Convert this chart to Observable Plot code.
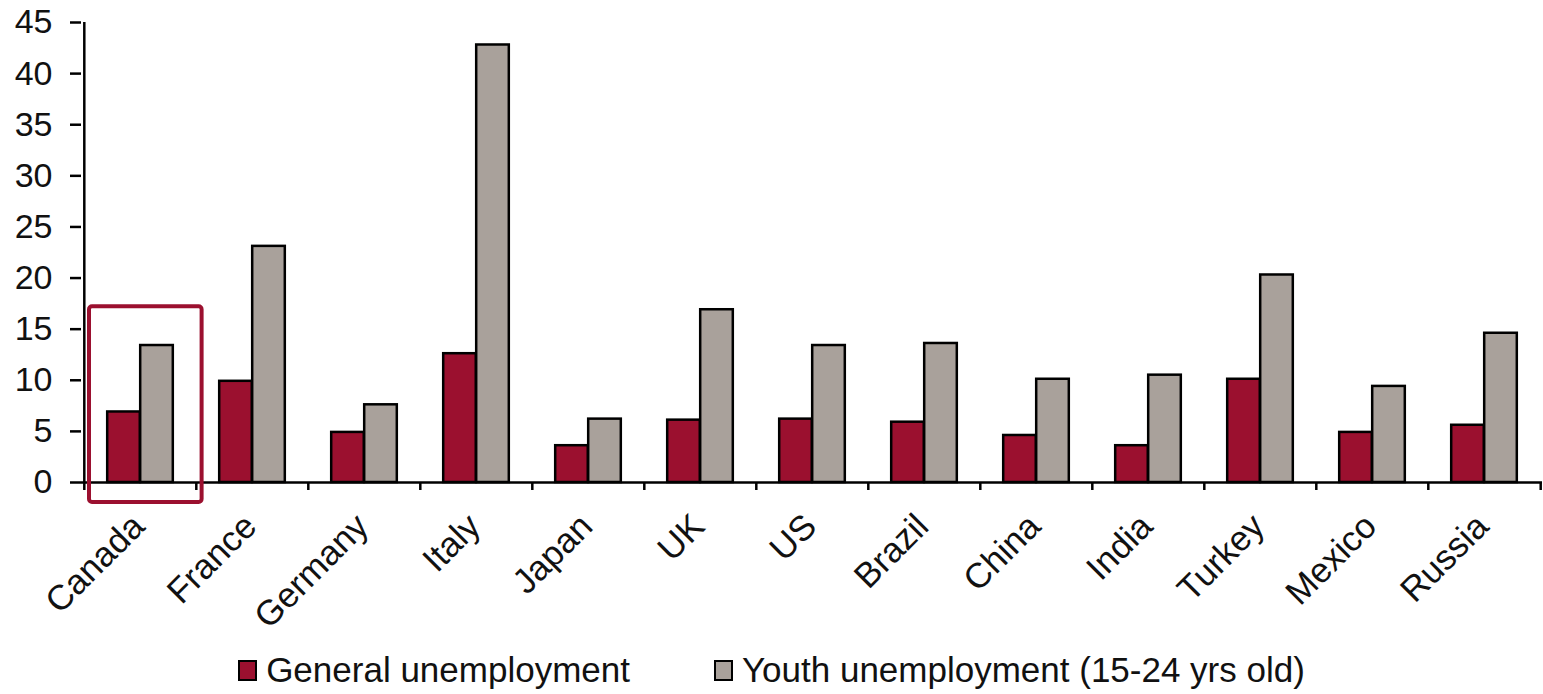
<!DOCTYPE html>
<html>
<head>
<meta charset="utf-8">
<script src="https://cdn.jsdelivr.net/npm/d3@7"></script>
<script src="https://cdn.jsdelivr.net/npm/@observablehq/plot@0.6"></script>
<style>
  html, body { margin: 0; padding: 0; background: #fff; }
  body { width: 1543px; height: 694px; overflow: hidden; font-family: "Liberation Sans", Arial, sans-serif; }
  #legend { display: flex; justify-content: center; align-items: center; height: 49px; font-size: 35px; color: #111; gap: 84px; padding-left: 0px; }
  .item { display: flex; align-items: center; }
  .sw { width: 15px; height: 17px; border: 2px solid #000; margin-right: 9px; margin-top: 2px; }
</style>
</head>
<body>
<div id="chart"></div>
<div id="legend"></div>
<script>
const countries = ["Canada","France","Germany","Italy","Japan","UK","US","Brazil","China","India","Turkey","Mexico","Russia"];
const general = [6.9, 9.9, 4.9, 12.6, 3.6, 6.1, 6.2, 5.9, 4.6, 3.6, 10.1, 4.9, 5.6];
const youth = [13.4, 23.1, 7.6, 42.8, 6.2, 16.9, 13.4, 13.6, 10.1, 10.5, 20.3, 9.4, 14.6];
const seriesNames = ["General unemployment", "Youth unemployment (15-24 yrs old)"];
const seriesColors = ["#9B102F", "#A9A19B"];
const yTicks = [0, 5, 10, 15, 20, 25, 30, 35, 40, 45];
const highlight = "Canada";

const width = 1543, height = 645;
const marginLeft = 81, marginRight = 1, marginTop = 22, marginBottom = 163;
const band = (width - marginLeft - marginRight) / countries.length;
const barW = 33;

const rows = countries.map((c, i) => ({country: c, general: general[i], youth: youth[i]}));

const plot = Plot.plot({
  width, height, marginLeft, marginRight, marginTop, marginBottom,
  style: {fontFamily: '"Liberation Sans", Arial, sans-serif', color: "#111", background: "#fff"},
  x: {domain: countries, padding: 0, axis: null, label: null},
  y: {domain: [0, 45], axis: null, label: null},
  marks: [
    Plot.barY(rows, {x: "country", y: "general", fill: seriesColors[0], stroke: "#000", strokeWidth: 2.5,
      insetLeft: band / 2 - barW, insetRight: band / 2}),
    Plot.barY(rows, {x: "country", y: "youth", fill: seriesColors[1], stroke: "#000", strokeWidth: 2.5,
      insetLeft: band / 2, insetRight: band / 2 - barW}),
    Plot.ruleY([0], {stroke: "#000", strokeWidth: 2.5}),
    Plot.ruleX([countries[0]], {x: d => d, dx: -band / 2, y1: 0, y2: 45, stroke: "#000", strokeWidth: 2.5}),
    Plot.ruleX(countries, {x: d => d, dx: -band / 2, y1: d => 0, y2: d => 0, insetBottom: -8, stroke: "#000", strokeWidth: 2.5}),
    Plot.ruleX([countries[countries.length - 1]], {x: d => d, dx: band / 2, y1: d => 0, y2: d => 0, insetBottom: -8, stroke: "#000", strokeWidth: 2.5}),
    Plot.axisY({ticks: yTicks, anchor: "left", label: null, tickSize: 11, tickPadding: 18, fontSize: 34, stroke: "#000", strokeWidth: 2.5, tickFormat: d => String(d)}),
    Plot.axisX({anchor: "bottom", label: null, tickSize: 0, tickPadding: 38, tickRotate: -45, fontSize: 35, dx: -2}),
    Plot.barY([highlight], {x: d => d, y1: d => -1.95, y2: d => 17.2, fill: "none", stroke: "#9B102F", strokeWidth: 4, rx: 3,
      insetLeft: 5, insetRight: -5.6})
  ]
});
document.getElementById("chart").appendChild(plot);

const legend = document.getElementById("legend");
seriesNames.forEach((name, i) => {
  const item = document.createElement("div");
  item.className = "item";
  const sw = document.createElement("div");
  sw.className = "sw";
  sw.style.background = seriesColors[i];
  const t = document.createElement("span");
  t.textContent = name;
  item.appendChild(sw);
  item.appendChild(t);
  legend.appendChild(item);
});
</script>
</body>
</html>
